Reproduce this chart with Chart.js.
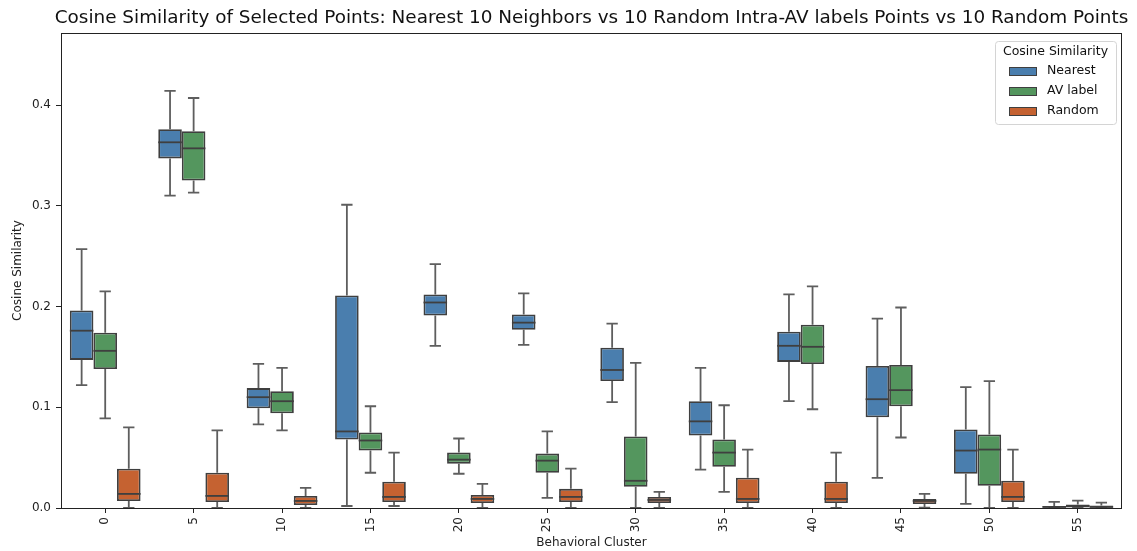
<!DOCTYPE html>
<html>
<head>
<meta charset="utf-8">
<script src="https://cdn.jsdelivr.net/npm/chart.js@4.4.1/dist/chart.umd.min.js"></script>
<style>
    html, body { margin: 0; padding: 0; background: #fff; }
    #wrap { width: 1137px; height: 551px; }
</style>
</head>
<body>
<div id="wrap"><canvas id="boxChart" width="1137" height="551"></canvas></div>
<script>
const clusters = ['0', '5', '10', '15', '20', '25', '30', '35', '40', '45', '50', '55'];

// each entry: [lower whisker, Q1, median, Q3, upper whisker]
const nearest = [
    [0.122, 0.147, 0.176, 0.196, 0.257],
    [0.310, 0.347, 0.363, 0.376, 0.414],
    [0.083, 0.099, 0.110, 0.119, 0.143],
    [0.002, 0.068, 0.076, 0.211, 0.301],
    [0.161, 0.191, 0.204, 0.212, 0.242],
    [0.162, 0.177, 0.184, 0.192, 0.213],
    [0.105, 0.126, 0.137, 0.159, 0.183],
    [0.038, 0.072, 0.086, 0.106, 0.139],
    [0.106, 0.145, 0.161, 0.175, 0.212],
    [0.030, 0.090, 0.108, 0.141, 0.188],
    [0.004, 0.034, 0.057, 0.078, 0.120],
    [0.000, 0.000, 0.001, 0.002, 0.006]
];
const avLabel = [
    [0.089, 0.138, 0.156, 0.174, 0.215],
    [0.313, 0.325, 0.357, 0.374, 0.407],
    [0.077, 0.094, 0.106, 0.116, 0.139],
    [0.035, 0.057, 0.067, 0.075, 0.101],
    [0.034, 0.044, 0.048, 0.055, 0.069],
    [0.010, 0.035, 0.047, 0.054, 0.076],
    [0.000, 0.021, 0.027, 0.071, 0.144],
    [0.016, 0.041, 0.055, 0.068, 0.102],
    [0.098, 0.143, 0.160, 0.182, 0.220],
    [0.070, 0.101, 0.117, 0.142, 0.199],
    [0.000, 0.022, 0.058, 0.073, 0.126],
    [0.000, 0.0005, 0.002, 0.0034, 0.0073]
];
const randomPts = [
    [0.000, 0.007, 0.014, 0.039, 0.080],
    [0.000, 0.006, 0.012, 0.035, 0.077],
    [0.000, 0.003, 0.007, 0.012, 0.020],
    [0.002, 0.006, 0.011, 0.026, 0.055],
    [0.000, 0.005, 0.009, 0.013, 0.024],
    [0.000, 0.006, 0.011, 0.019, 0.039],
    [0.000, 0.005, 0.008, 0.011, 0.016],
    [0.000, 0.005, 0.009, 0.030, 0.058],
    [0.000, 0.005, 0.009, 0.026, 0.055],
    [0.0004, 0.004, 0.007, 0.009, 0.014],
    [0.000, 0.006, 0.011, 0.027, 0.058],
    [0.000, 0.000, 0.001, 0.0024, 0.0053]
];

const yTicks = [0, 0.1, 0.2, 0.3, 0.4];
const chartTitle = 'Cosine Similarity of Selected Points: Nearest 10 Neighbors vs 10 Random Intra-AV labels Points vs 10 Random Points';
const lineColor = '#3f3f3f';
const whiskerColor = '#5e5e5e';

Chart.defaults.font.family = 'DejaVu Sans';
Chart.defaults.font.size = 12;
Chart.defaults.color = '#222';

function makeSet(label, stats, color) {
    return {
        label: label,
        stats: stats,
        data: stats.map(s => [s[1], s[3]]),
        backgroundColor: color,
        borderColor: lineColor,
        borderWidth: 1.8,
        borderSkipped: false,
        categoryPercentage: 0.8,
        barPercentage: 1.0
    };
}

// whiskers + caps under the boxes, medians on top
const boxParts = {
    id: 'boxParts',
    beforeDatasetsDraw(chart) {
        const ctx = chart.ctx;
        const y = chart.scales.y;
        ctx.save();
        ctx.strokeStyle = whiskerColor;
        ctx.lineWidth = 1.8;
        chart.data.datasets.forEach((ds, di) => {
            chart.getDatasetMeta(di).data.forEach((bar, i) => {
                const s = ds.stats[i];
                const cap = bar.width * 0.24;
                const yLo = y.getPixelForValue(s[0]);
                const yHi = y.getPixelForValue(s[4]);
                ctx.beginPath();
                ctx.moveTo(bar.x, yLo);
                ctx.lineTo(bar.x, y.getPixelForValue(s[1]));
                ctx.moveTo(bar.x, y.getPixelForValue(s[3]));
                ctx.lineTo(bar.x, yHi);
                ctx.moveTo(bar.x - cap, yLo);
                ctx.lineTo(bar.x + cap, yLo);
                ctx.moveTo(bar.x - cap, yHi);
                ctx.lineTo(bar.x + cap, yHi);
                ctx.stroke();
            });
        });
        ctx.restore();
    },
    afterDatasetsDraw(chart) {
        const ctx = chart.ctx;
        const y = chart.scales.y;
        ctx.save();
        ctx.strokeStyle = lineColor;
        ctx.lineWidth = 1.8;
        chart.data.datasets.forEach((ds, di) => {
            chart.getDatasetMeta(di).data.forEach((bar, i) => {
                const ym = y.getPixelForValue(ds.stats[i][2]);
                ctx.beginPath();
                ctx.moveTo(bar.x - bar.width / 2, ym);
                ctx.lineTo(bar.x + bar.width / 2, ym);
                ctx.stroke();
            });
        });
        ctx.restore();
    },
    afterDraw(chart) {
        const ctx = chart.ctx;
        const a = chart.chartArea;
        ctx.save();
        // title centred over the plot area, like matplotlib does
        ctx.fillStyle = '#111';
        ctx.font = '18.4px "DejaVu Sans"';
        ctx.textAlign = 'center';
        ctx.textBaseline = 'middle';
        ctx.fillText(chartTitle, (a.left + a.right) / 2, 18);

        // frame round the plot
        ctx.strokeStyle = '#222';
        ctx.lineWidth = 1;
        ctx.strokeRect(Math.round(a.left) + 0.5, Math.round(a.top) + 0.5,
            Math.round(a.right - a.left) - 1, Math.round(a.bottom - a.top));

        // legend box, top right inside the plot
        const w = 121, h = 83;
        const x0 = a.right - 6 - w, y0 = a.top + 8;
        ctx.fillStyle = 'rgba(255,255,255,0.85)';
        ctx.strokeStyle = '#d4d4d4';
        ctx.beginPath();
        ctx.roundRect(x0 + 0.5, y0 + 0.5, w, h, 3);
        ctx.fill();
        ctx.stroke();

        ctx.fillStyle = '#111';
        ctx.font = '12.5px "DejaVu Sans"';
        ctx.textAlign = 'center';
        ctx.fillText('Cosine Similarity', x0 + w / 2, y0 + 11);
        ctx.textAlign = 'left';
        chart.data.datasets.forEach((ds, i) => {
            const cy = y0 + 30 + i * 20;
            ctx.fillStyle = ds.backgroundColor;
            ctx.fillRect(x0 + 14, cy - 4, 28, 8);
            ctx.strokeStyle = lineColor;
            ctx.lineWidth = 1;
            ctx.strokeRect(x0 + 14.5, cy - 3.5, 27, 8);
            ctx.fillStyle = '#111';
            ctx.fillText(ds.label, x0 + 52, cy);
        });
        ctx.restore();
    }
};

new Chart(document.getElementById('boxChart'), {
    type: 'bar',
    data: {
        labels: clusters,
        datasets: [
            makeSet('Nearest', nearest, '#4a7eae'),
            makeSet('AV label', avLabel, '#54965e'),
            makeSet('Random', randomPts, '#c56231')
        ]
    },
    options: {
        responsive: false,
        animation: false,
        layout: { padding: { left: 0, right: 15, top: 33, bottom: 0 } },
        plugins: {
            legend: { display: false },
            tooltip: { enabled: false },
            title: { display: false }
        },
        scales: {
            x: {
                grid: { display: true, drawOnChartArea: false, offset: false, tickLength: 5, color: '#222' },
                border: { display: false },
                ticks: { minRotation: 90, maxRotation: 90, padding: 4, color: '#222' },
                title: { display: true, text: 'Behavioral Cluster', padding: { top: 0, bottom: 1 }, color: '#222' },
                afterFit(scale) { scale.height = 43; }
            },
            y: {
                min: 0,
                max: 0.4715,
                grid: { display: true, drawOnChartArea: false, tickLength: 5, color: '#222' },
                border: { display: false },
                afterBuildTicks(scale) { scale.ticks = yTicks.map(v => ({ value: v })); },
                ticks: { padding: 5, color: '#222', callback: v => v.toFixed(1) },
                title: { display: true, text: 'Cosine Similarity', padding: { top: 11, bottom: 0 }, color: '#222' },
                afterFit(scale) { scale.width = 61; }
            }
        }
    },
    plugins: [boxParts]
});
</script>
</body>
</html>
